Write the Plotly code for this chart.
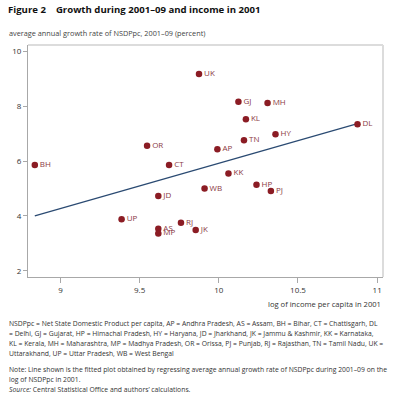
import plotly.graph_objects as go

states = ["BH", "OR", "CT", "UK", "GJ", "MH", "KL", "HY", "TN", "AP", "DL",
          "KK", "WB", "HP", "PJ", "JK", "RJ", "JD", "UP", "AS", "MP"]
log_income = [8.838, 9.547, 9.686, 9.875, 10.124, 10.308, 10.171, 10.358, 10.159, 9.991, 10.876,
              10.061, 9.910, 10.238, 10.329, 9.854, 9.761, 9.618, 9.386, 9.618, 9.618]
growth = [5.86, 6.56, 5.86, 9.18, 8.17, 8.12, 7.53, 6.98, 6.76, 6.43, 7.35,
          5.55, 5.00, 5.14, 4.91, 3.49, 3.75, 4.73, 3.88, 3.53, 3.36]
fit_x = [8.838, 10.876]
fit_y = [4.00, 7.37]
x_ticks = [9, 9.5, 10, 10.5, 11]
x_tick_labels = ["9", "9.5", "10", "10.5", "11"]
y_ticks = [2, 4, 6, 8, 10]
y_tick_labels = ["2", "4", "6", "8", "10"]

title = "<b>Figure 2    Growth during 2001–09 and income in 2001</b>"
y_title = "average annual growth rate of NSDPpc, 2001–09 (percent)"
x_title = "log of income per capita in 2001"
foot_lines = [
    "NSDPpc = Net State Domestic Product per capita, AP = Andhra Pradesh, AS = Assam, BH = Bihar, CT = Chattisgarh, DL",
    "= Delhi, GJ = Gujarat, HP = Himachal Pradesh, HY = Haryana, JD = Jharkhand, JK = Jammu &amp; Kashmir, KK = Karnataka,",
    "KL = Kerala, MH = Maharashtra, MP = Madhya Pradesh, OR = Orissa, PJ = Punjab, RJ = Rajasthan, TN = Tamil Nadu, UK =",
    "Uttarakhand, UP = Uttar Pradesh, WB = West Bengal",
]
note_lines = [
    "Note: Line shown is the fitted plot obtained by regressing average annual growth rate of NSDPpc during 2001–09 on the",
    "log of NSDPpc in 2001.",
]
source_line = "<i>Source:</i> Central Statistical Office and authors’ calculations."

FONT = "Open Sans"
RED = "#8b1c24"

fig = go.Figure()
fig.add_trace(go.Scatter(
    x=fit_x, y=fit_y, mode="lines",
    line=dict(color="#2a4a72", width=1.2), hoverinfo="skip", showlegend=False))
fig.add_trace(go.Scatter(
    x=log_income, y=growth, mode="markers+text", text=states,
    textposition="middle right",
    textfont=dict(family=FONT, size=8, color="#8b3a44"),
    marker=dict(color=RED, size=6.5), showlegend=False, cliponaxis=False))

fig.update_layout(
    width=400, height=400,
    margin=dict(l=23, r=17, t=45, b=123),
    paper_bgcolor="white", plot_bgcolor="white",
    font=dict(family=FONT, size=8, color="#333333"),
    xaxis=dict(range=[8.795, 11.037], tickvals=x_ticks, ticktext=x_tick_labels,
               showgrid=False, zeroline=False, showline=True, linecolor="#a8a8a8",
               linewidth=1, ticks="outside", ticklen=5, tickcolor="#a8a8a8",
               tickfont=dict(size=8, color="#333333"), mirror=False),
    yaxis=dict(range=[1.77, 10.24], tickvals=y_ticks, ticktext=y_tick_labels,
               showgrid=False, zeroline=False, showline=True, linecolor="#a8a8a8",
               linewidth=1, ticks="outside", ticklen=4, tickcolor="#a8a8a8",
               tickfont=dict(size=8, color="#333333")),
    shapes=[
        dict(type="line", xref="paper", yref="paper", x0=0, x1=1, y0=1, y1=1,
             line=dict(color="#dcdcdc", width=2)),
        dict(type="line", xref="paper", yref="paper", x0=1, x1=1, y0=0, y1=1,
             line=dict(color="#dcdcdc", width=2)),
    ],
)

ann = []
ann.append(dict(text=title, x=1, y=10, font=dict(size=9.6, color="#111111")))
ann.append(dict(text=y_title, x=2, y=33, font=dict(size=7.3, color="#444444")))
for i, t in enumerate(foot_lines):
    ann.append(dict(text=t, x=2, y=323 + 10 * i, font=dict(size=6.8, color="#333333")))
for i, t in enumerate(note_lines):
    ann.append(dict(text=t, x=2, y=369 + 10 * i, font=dict(size=6.8, color="#333333")))
ann.append(dict(text=source_line, x=2, y=389, font=dict(size=6.8, color="#333333")))

annotations = []
for a in ann:
    annotations.append(dict(
        text=a["text"], xref="paper", yref="paper",
        x=(a["x"] - 23) / 360, y=1 - (a["y"] - 45) / 232,
        xanchor="left", yanchor="middle", showarrow=False,
        font=dict(family=FONT, **a["font"])))
annotations.append(dict(
    text=x_title, xref="paper", yref="paper", x=1, y=1 - (304 - 45) / 232,
    xanchor="right", yanchor="middle", showarrow=False,
    font=dict(family=FONT, size=7.6, color="#333333")))
fig.update_layout(annotations=annotations)

fig.write_html("out.html", config={"displayModeBar": False},
               post_script="document.body.style.margin='0';document.body.style.padding='0';")
